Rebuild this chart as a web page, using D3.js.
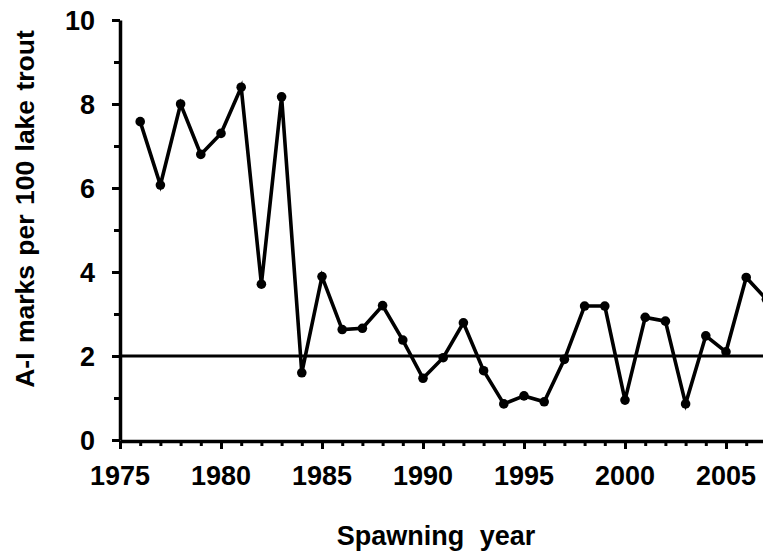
<!DOCTYPE html>
<html>
<head>
<meta charset="utf-8">
<script src="https://cdn.jsdelivr.net/npm/d3@7"></script>
<style>
  body { margin: 0; background: #fff; }
  svg { display: block; font-family: "Liberation Sans", Arial, sans-serif; font-weight: bold; }
  .domain { stroke: #000; stroke-width: 3.5px; }
</style>
</head>
<body>
<svg id="chart" width="763" height="556"></svg>
<script>
var years = [1976, 1977, 1978, 1979, 1980, 1981, 1982, 1983, 1984, 1985, 1986, 1987, 1988, 1989, 1990, 1991,
             1992, 1993, 1994, 1995, 1996, 1997, 1998, 1999, 2000, 2001, 2002, 2003, 2004, 2005, 2006, 2007];
var marks = [7.58, 6.07, 8.0, 6.8, 7.3, 8.4, 3.71, 8.17, 1.6, 3.89, 2.63, 2.66, 3.2, 2.38, 1.47, 1.96,
             2.79, 1.65, 0.86, 1.05, 0.91, 1.92, 3.19, 3.19, 0.95, 2.92, 2.83, 0.86, 2.48, 2.1, 3.87, 3.35];
var xTickYears = [1975, 1980, 1985, 1990, 1995, 2000, 2005];
var yTickValues = [0, 2, 4, 6, 8, 10];
var threshold = 2;

var svg = d3.select("#chart");
var width = 763, height = 556;

// plot area: 1975 sits on the y axis, ~20.2px per year, runs past the right edge
var x = d3.scaleLinear().domain([1975, 2008]).range([120, 786.6]);
var y = d3.scaleLinear().domain([0, 10]).range([440, 20]);

// x axis: a tick every year, longer every 5
var xAxis = svg.append("g")
  .attr("transform", "translate(0,441)")
  .call(d3.axisBottom(x)
    .tickValues(d3.range(1975, 2009))
    .tickSize(5)
    .tickSizeOuter(0)
    .tickFormat(""));
xAxis.selectAll(".tick line")
  .attr("stroke-width", 3)
  .attr("y2", function(d) { return d % 5 === 0 ? 8 : 5; });

svg.append("g").selectAll("text")
  .data(xTickYears)
  .enter().append("text")
  .attr("x", function(d) { return x(d); })
  .attr("y", 485)
  .attr("text-anchor", "middle")
  .attr("font-size", 27)
  .text(function(d) { return d; });

// y axis
var yAxis = svg.append("g")
  .attr("transform", "translate(120,0)")
  .call(d3.axisLeft(y)
    .tickValues(d3.range(0, 11))
    .tickSize(8)
    .tickSizeOuter(0)
    .tickFormat(""));
yAxis.selectAll(".tick line")
  .attr("stroke-width", 3)
  .attr("x2", function(d) { return d % 2 === 0 ? -8 : -6; });

svg.append("g").selectAll("text")
  .data(yTickValues)
  .enter().append("text")
  .attr("x", 95)
  .attr("y", function(d) { return y(d); })
  .attr("dy", "0.36em")
  .attr("text-anchor", "end")
  .attr("font-size", 27)
  .text(function(d) { return d; });

// reference line at 2
svg.append("line")
  .attr("x1", x(1975))
  .attr("x2", width)
  .attr("y1", y(threshold))
  .attr("y2", y(threshold))
  .attr("stroke", "#000")
  .attr("stroke-width", 3.2);

var pts = years.map(function(d, i) { return [d, marks[i]]; });

svg.append("path")
  .datum(pts)
  .attr("fill", "none")
  .attr("stroke", "#000")
  .attr("stroke-width", 3.6)
  .attr("stroke-linejoin", "miter")
  .attr("d", d3.line()
    .x(function(d) { return x(d[0]); })
    .y(function(d) { return y(d[1]); }));

svg.append("g").selectAll("circle")
  .data(pts)
  .enter().append("circle")
  .attr("cx", function(d) { return x(d[0]); })
  .attr("cy", function(d) { return y(d[1]); })
  .attr("r", 4.8)
  .attr("fill", "#000");

// axis titles
svg.append("text")
  .attr("x", 436)
  .attr("y", 545)
  .attr("text-anchor", "middle")
  .attr("font-size", 27)
  .style("word-spacing", "8px")
  .text("Spawning year");

svg.append("text")
  .attr("transform", "translate(34,209) rotate(-90)")
  .attr("text-anchor", "middle")
  .attr("font-size", 26.5)
  .style("word-spacing", "2px")
  .text("A-I marks per 100 lake trout");
</script>
</body>
</html>
